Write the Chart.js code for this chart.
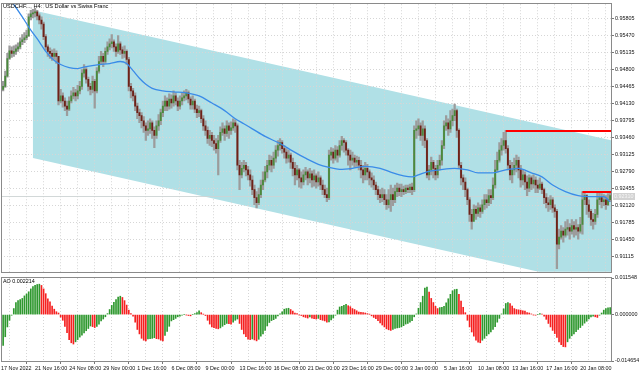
<!DOCTYPE html>
<html>
<head>
<meta charset="utf-8">
<script src="https://cdn.jsdelivr.net/npm/chart.js@4.4.1/dist/chart.umd.min.js"></script>
<style>
  body { margin: 0; background: #fff; width: 639px; height: 373px; overflow: hidden; position: relative; }
  canvas { position: absolute; left: 0; }
  #main { top: 0; }
  #ao { top: 272px; }
</style>
</head>
<body>
<canvas id="main" width="639" height="276"></canvas>
<canvas id="ao" width="639" height="101"></canvas>
<script>
// USDCHF H4, one entry per bar (bar 0 = 17 Nov 2022 04:00)
var open = [
0.9441,0.9447,0.9467,0.9502,0.9517,0.9512,0.9516,0.9521,0.9525,0.9535,
0.9539,0.9543,0.9547,0.9584,0.9590,0.9592,0.9594,0.9586,0.9578,0.9570,
0.9545,0.9525,0.9516,0.9512,0.9506,0.9512,0.9506,0.9418,0.9428,0.9418,
0.9408,0.9402,0.9418,0.9428,0.9434,0.9428,0.9438,0.9447,0.9473,0.9480,
0.9461,0.9447,0.9441,0.9457,0.9438,0.9477,0.9496,0.9506,0.9496,0.9516,
0.9525,0.9531,0.9535,0.9525,0.9516,0.9531,0.9519,0.9512,0.9516,0.9500,
0.9447,0.9438,0.9428,0.9408,0.9395,0.9389,0.9379,0.9369,0.9360,0.9363,
0.9375,0.9360,0.9350,0.9369,0.9379,0.9395,0.9408,0.9418,0.9408,0.9422,
0.9414,0.9428,0.9418,0.9408,0.9418,0.9424,0.9428,0.9434,0.9422,0.9410,
0.9418,0.9402,0.9395,0.9399,0.9383,0.9369,0.9360,0.9344,0.9350,0.9340,
0.9334,0.9324,0.9340,0.9356,0.9363,0.9354,0.9369,0.9360,0.9365,0.9375,
0.9369,0.9291,0.9272,0.9285,0.9291,0.9282,0.9272,0.9262,0.9243,0.9227,
0.9217,0.9233,0.9252,0.9262,0.9278,0.9291,0.9301,0.9291,0.9305,0.9321,
0.9330,0.9336,0.9324,0.9317,0.9305,0.9311,0.9297,0.9285,0.9272,0.9282,
0.9266,0.9258,0.9272,0.9278,0.9266,0.9274,0.9262,0.9270,0.9258,0.9266,
0.9252,0.9243,0.9233,0.9227,0.9311,0.9317,0.9305,0.9321,0.9311,0.9330,
0.9340,0.9336,0.9321,0.9311,0.9301,0.9305,0.9297,0.9301,0.9291,0.9282,
0.9272,0.9285,0.9278,0.9266,0.9262,0.9252,0.9243,0.9233,0.9227,0.9233,
0.9223,0.9213,0.9223,0.9233,0.9223,0.9239,0.9246,0.9239,0.9243,0.9239,
0.9246,0.9243,0.9248,0.9243,0.9360,0.9363,0.9369,0.9350,0.9363,0.9340,
0.9272,0.9282,0.9297,0.9285,0.9272,0.9291,0.9301,0.9330,0.9369,0.9375,
0.9363,0.9379,0.9389,0.9399,0.9360,0.9291,0.9266,0.9258,0.9243,0.9223,
0.9194,0.9180,0.9204,0.9196,0.9207,0.9200,0.9213,0.9223,0.9217,0.9231,
0.9227,0.9252,0.9282,0.9301,0.9321,0.9330,0.9340,0.9324,0.9291,0.9272,
0.9282,0.9291,0.9301,0.9282,0.9262,0.9272,0.9258,0.9246,0.9266,0.9254,
0.9262,0.9252,0.9246,0.9254,0.9243,0.9227,0.9217,0.9213,0.9223,0.9207,
0.9200,0.9135,0.9149,0.9161,0.9153,0.9165,0.9168,0.9161,0.9172,0.9165,
0.9168,0.9161,0.9174,0.9223,0.9231,0.9213,0.9200,0.9184,0.9180,0.9194,
0.9223,0.9227,0.9219,0.9223,0.9213,0.9223];
var high = [
0.9457,0.9477,0.9512,0.9527,0.9525,0.9527,0.9529,0.9533,0.9543,0.9549,
0.9553,0.9558,0.9590,0.9597,0.9599,0.9601,0.9597,0.9590,0.9584,0.9574,
0.9549,0.9529,0.9523,0.9519,0.9521,0.9517,0.9506,0.9441,0.9434,0.9424,
0.9418,0.9426,0.9438,0.9445,0.9441,0.9449,0.9457,0.9480,0.9490,0.9484,
0.9465,0.9453,0.9467,0.9461,0.9484,0.9506,0.9516,0.9512,0.9523,0.9535,
0.9541,0.9549,0.9539,0.9531,0.9547,0.9535,0.9525,0.9527,0.9519,0.9504,
0.9453,0.9443,0.9434,0.9414,0.9402,0.9395,0.9387,0.9375,0.9379,0.9383,
0.9379,0.9367,0.9379,0.9391,0.9402,0.9418,0.9428,0.9424,0.9432,0.9430,
0.9438,0.9434,0.9424,0.9428,0.9434,0.9438,0.9441,0.9438,0.9426,0.9428,
0.9422,0.9410,0.9408,0.9402,0.9389,0.9379,0.9367,0.9360,0.9356,0.9350,
0.9344,0.9350,0.9367,0.9375,0.9369,0.9379,0.9375,0.9377,0.9383,0.9381,
0.9373,0.9301,0.9297,0.9301,0.9297,0.9289,0.9282,0.9270,0.9252,0.9239,
0.9246,0.9262,0.9278,0.9289,0.9301,0.9311,0.9309,0.9317,0.9330,0.9340,
0.9344,0.9340,0.9330,0.9324,0.9321,0.9315,0.9305,0.9297,0.9291,0.9285,
0.9278,0.9282,0.9287,0.9282,0.9285,0.9280,0.9282,0.9274,0.9278,0.9270,
0.9262,0.9252,0.9246,0.9321,0.9326,0.9324,0.9330,0.9328,0.9340,0.9348,
0.9344,0.9340,0.9324,0.9321,0.9317,0.9311,0.9309,0.9307,0.9301,0.9291,
0.9297,0.9293,0.9282,0.9276,0.9270,0.9258,0.9250,0.9243,0.9246,0.9243,
0.9233,0.9243,0.9252,0.9246,0.9252,0.9256,0.9254,0.9254,0.9250,0.9252,
0.9252,0.9254,0.9256,0.9369,0.9379,0.9383,0.9375,0.9379,0.9369,0.9344,
0.9291,0.9307,0.9301,0.9291,0.9301,0.9311,0.9340,0.9379,0.9389,0.9383,
0.9399,0.9402,0.9412,0.9402,0.9363,0.9297,0.9272,0.9266,0.9246,0.9227,
0.9204,0.9213,0.9211,0.9217,0.9213,0.9223,0.9233,0.9233,0.9243,0.9243,
0.9266,0.9301,0.9317,0.9336,0.9344,0.9356,0.9360,0.9330,0.9301,0.9297,
0.9305,0.9311,0.9307,0.9291,0.9282,0.9278,0.9270,0.9272,0.9270,0.9272,
0.9268,0.9262,0.9266,0.9258,0.9246,0.9235,0.9227,0.9231,0.9227,0.9213,
0.9204,0.9165,0.9172,0.9168,0.9180,0.9184,0.9176,0.9184,0.9180,0.9184,
0.9174,0.9188,0.9239,0.9239,0.9233,0.9223,0.9204,0.9196,0.9204,0.9239,
0.9239,0.9235,0.9233,0.9231,0.9235,0.9237];
var low = [
0.9438,0.9445,0.9465,0.9500,0.9504,0.9506,0.9510,0.9516,0.9521,0.9529,
0.9533,0.9539,0.9545,0.9578,0.9582,0.9584,0.9578,0.9570,0.9560,0.9539,
0.9519,0.9506,0.9502,0.9498,0.9500,0.9492,0.9410,0.9414,0.9406,0.9399,
0.9389,0.9399,0.9414,0.9422,0.9418,0.9422,0.9432,0.9441,0.9465,0.9453,
0.9438,0.9430,0.9434,0.9404,0.9434,0.9473,0.9490,0.9486,0.9492,0.9510,
0.9519,0.9523,0.9516,0.9506,0.9512,0.9510,0.9502,0.9504,0.9490,0.9438,
0.9424,0.9418,0.9399,0.9383,0.9375,0.9365,0.9356,0.9340,0.9350,0.9354,
0.9344,0.9326,0.9344,0.9360,0.9371,0.9387,0.9399,0.9399,0.9402,0.9404,
0.9408,0.9410,0.9399,0.9402,0.9410,0.9418,0.9420,0.9414,0.9402,0.9402,
0.9395,0.9385,0.9387,0.9375,0.9360,0.9350,0.9334,0.9330,0.9328,0.9321,
0.9315,0.9272,0.9336,0.9350,0.9340,0.9348,0.9344,0.9352,0.9360,0.9356,
0.9282,0.9243,0.9266,0.9278,0.9270,0.9262,0.9250,0.9233,0.9213,0.9207,
0.9213,0.9227,0.9243,0.9258,0.9266,0.9282,0.9278,0.9285,0.9297,0.9309,
0.9321,0.9315,0.9305,0.9295,0.9297,0.9285,0.9270,0.9252,0.9262,0.9248,
0.9246,0.9252,0.9262,0.9252,0.9256,0.9248,0.9250,0.9246,0.9250,0.9243,
0.9233,0.9227,0.9219,0.9223,0.9301,0.9295,0.9301,0.9297,0.9307,0.9321,
0.9317,0.9311,0.9291,0.9282,0.9291,0.9287,0.9289,0.9282,0.9266,0.9256,
0.9262,0.9262,0.9252,0.9248,0.9243,0.9233,0.9223,0.9217,0.9219,0.9213,
0.9204,0.9207,0.9200,0.9211,0.9217,0.9229,0.9231,0.9229,0.9233,0.9235,
0.9237,0.9237,0.9233,0.9239,0.9344,0.9350,0.9340,0.9330,0.9326,0.9266,
0.9262,0.9272,0.9266,0.9262,0.9266,0.9282,0.9291,0.9324,0.9360,0.9350,
0.9356,0.9369,0.9379,0.9346,0.9285,0.9252,0.9243,0.9229,0.9213,0.9180,
0.9165,0.9188,0.9184,0.9190,0.9188,0.9196,0.9204,0.9207,0.9211,0.9215,
0.9223,0.9246,0.9278,0.9297,0.9311,0.9321,0.9315,0.9282,0.9262,0.9256,
0.9272,0.9278,0.9266,0.9248,0.9252,0.9243,0.9231,0.9239,0.9243,0.9246,
0.9237,0.9237,0.9243,0.9235,0.9215,0.9207,0.9200,0.9204,0.9198,0.9188,
0.9087,0.9126,0.9145,0.9139,0.9149,0.9153,0.9145,0.9155,0.9149,0.9153,
0.9145,0.9157,0.9155,0.9213,0.9194,0.9188,0.9172,0.9165,0.9174,0.9188,
0.9213,0.9207,0.9211,0.9204,0.9211,0.9219];
var close = [
0.9447,0.9467,0.9502,0.9517,0.9512,0.9516,0.9521,0.9525,0.9535,0.9539,
0.9543,0.9547,0.9584,0.9590,0.9592,0.9594,0.9586,0.9578,0.9570,0.9545,
0.9525,0.9516,0.9512,0.9506,0.9512,0.9506,0.9418,0.9428,0.9418,0.9408,
0.9402,0.9418,0.9428,0.9434,0.9428,0.9438,0.9447,0.9473,0.9480,0.9461,
0.9447,0.9441,0.9457,0.9438,0.9477,0.9496,0.9506,0.9496,0.9516,0.9525,
0.9531,0.9535,0.9525,0.9516,0.9531,0.9519,0.9512,0.9516,0.9500,0.9447,
0.9438,0.9428,0.9408,0.9395,0.9389,0.9379,0.9369,0.9360,0.9363,0.9375,
0.9360,0.9350,0.9369,0.9379,0.9395,0.9408,0.9418,0.9408,0.9422,0.9414,
0.9428,0.9418,0.9408,0.9418,0.9424,0.9428,0.9434,0.9422,0.9410,0.9418,
0.9402,0.9395,0.9399,0.9383,0.9369,0.9360,0.9344,0.9350,0.9340,0.9334,
0.9324,0.9340,0.9356,0.9363,0.9354,0.9369,0.9360,0.9365,0.9375,0.9369,
0.9291,0.9272,0.9285,0.9291,0.9282,0.9272,0.9262,0.9243,0.9227,0.9217,
0.9233,0.9252,0.9262,0.9278,0.9291,0.9301,0.9291,0.9305,0.9321,0.9330,
0.9336,0.9324,0.9317,0.9305,0.9311,0.9297,0.9285,0.9272,0.9282,0.9266,
0.9258,0.9272,0.9278,0.9266,0.9274,0.9262,0.9270,0.9258,0.9266,0.9252,
0.9243,0.9233,0.9227,0.9311,0.9317,0.9305,0.9321,0.9311,0.9330,0.9340,
0.9336,0.9321,0.9311,0.9301,0.9305,0.9297,0.9301,0.9291,0.9282,0.9272,
0.9285,0.9278,0.9266,0.9262,0.9252,0.9243,0.9233,0.9227,0.9233,0.9223,
0.9213,0.9223,0.9233,0.9223,0.9239,0.9246,0.9239,0.9243,0.9239,0.9246,
0.9243,0.9248,0.9243,0.9360,0.9363,0.9369,0.9350,0.9363,0.9340,0.9272,
0.9282,0.9297,0.9285,0.9272,0.9291,0.9301,0.9330,0.9369,0.9375,0.9363,
0.9379,0.9389,0.9399,0.9360,0.9291,0.9266,0.9258,0.9243,0.9223,0.9194,
0.9180,0.9204,0.9196,0.9207,0.9200,0.9213,0.9223,0.9217,0.9231,0.9227,
0.9252,0.9282,0.9301,0.9321,0.9330,0.9340,0.9324,0.9291,0.9272,0.9282,
0.9291,0.9301,0.9282,0.9262,0.9272,0.9258,0.9246,0.9266,0.9254,0.9262,
0.9252,0.9246,0.9254,0.9243,0.9227,0.9217,0.9213,0.9223,0.9207,0.9200,
0.9135,0.9149,0.9161,0.9153,0.9165,0.9168,0.9161,0.9172,0.9165,0.9168,
0.9161,0.9174,0.9223,0.9231,0.9213,0.9200,0.9184,0.9180,0.9194,0.9223,
0.9227,0.9219,0.9223,0.9213,0.9223,0.9231];

// moving average line, read at these bars
var maBars = [0,5,9,13,17,20,24,27,31,35,39,45,50,55,58,61,64,67,70,75,80,86,92,98,104,109,113,117,123,130,
  136,142,148,153,158,164,170,177,183,188,192,195,199,205,212,218,223,230,236,242,248,253,258,264,270,277,282,285];
var maValues = [0.9638,0.9609,0.9584,0.9558,0.9535,0.9516,0.9498,0.9490,0.9484,0.9482,0.9486,0.9490,0.9492,0.9496,0.9492,
  0.9478,0.9463,0.9451,0.9443,0.9438,0.9436,0.9434,0.9428,0.9414,0.9399,0.9383,0.9373,0.9363,0.9348,0.9334,
  0.9319,0.9305,0.9293,0.9287,0.9283,0.9285,0.9289,0.9285,0.9276,0.9270,0.9268,0.9272,0.9278,0.9282,0.9285,
  0.9282,0.9276,0.9276,0.9282,0.9285,0.9276,0.9268,0.9252,0.9239,0.9231,0.9229,0.9229,0.9219];

// Awesome Oscillator, one per bar
var aoValues = [
-0.0097,-0.0070,-0.0039,-0.0018,-0.0002,0.0019,0.0038,0.0044,0.0047,0.0051,
0.0059,0.0065,0.0072,0.0081,0.0088,0.0092,0.0095,0.0096,0.0092,0.0081,
0.0066,0.0050,0.0040,0.0027,0.0017,0.0009,0.0005,-0.0008,-0.0018,-0.0037,
-0.0057,-0.0079,-0.0089,-0.0093,-0.0086,-0.0079,-0.0071,-0.0065,-0.0058,-0.0051,
-0.0044,-0.0036,-0.0038,-0.0041,-0.0037,-0.0030,-0.0020,-0.0014,-0.0007,0.0003,
0.0016,0.0029,0.0039,0.0047,0.0055,0.0058,0.0054,0.0044,0.0030,0.0014,
0.0003,-0.0005,-0.0024,-0.0047,-0.0061,-0.0075,-0.0081,-0.0083,-0.0077,-0.0076,
-0.0075,-0.0073,-0.0076,-0.0077,-0.0081,-0.0083,-0.0066,-0.0053,-0.0037,-0.0020,
-0.0016,-0.0012,-0.0007,-0.0005,-0.0002,0.0000,-0.0001,-0.0003,-0.0004,0.0000,
0.0003,0.0006,0.0012,0.0006,0.0001,-0.0003,-0.0018,-0.0030,-0.0039,-0.0041,
-0.0044,-0.0045,-0.0042,-0.0037,-0.0032,-0.0028,-0.0029,-0.0030,-0.0024,-0.0018,
-0.0014,-0.0028,-0.0047,-0.0061,-0.0070,-0.0078,-0.0079,-0.0077,-0.0080,-0.0083,
-0.0078,-0.0068,-0.0061,-0.0050,-0.0036,-0.0025,-0.0019,-0.0016,-0.0012,-0.0004,
0.0002,0.0009,0.0017,0.0019,0.0020,0.0016,0.0011,0.0005,0.0003,-0.0001,
-0.0003,-0.0007,-0.0009,-0.0011,-0.0007,-0.0011,-0.0013,-0.0014,-0.0012,-0.0016,
-0.0018,-0.0020,-0.0024,-0.0023,-0.0017,-0.0011,-0.0002,0.0014,0.0024,0.0026,
0.0029,0.0032,0.0028,0.0025,0.0019,0.0016,0.0012,0.0008,0.0007,0.0006,
0.0005,0.0003,0.0001,-0.0004,-0.0009,-0.0013,-0.0019,-0.0026,-0.0033,-0.0039,
-0.0045,-0.0048,-0.0050,-0.0047,-0.0044,-0.0042,-0.0041,-0.0039,-0.0035,-0.0030,
-0.0028,-0.0024,-0.0019,-0.0007,0.0002,0.0020,0.0038,0.0058,0.0084,0.0087,
0.0071,0.0051,0.0038,0.0026,0.0019,0.0022,0.0023,0.0026,0.0037,0.0050,
0.0064,0.0075,0.0079,0.0080,0.0064,0.0043,0.0023,0.0006,-0.0018,-0.0039,
-0.0055,-0.0068,-0.0081,-0.0087,-0.0089,-0.0081,-0.0075,-0.0067,-0.0061,-0.0055,
-0.0047,-0.0038,-0.0024,-0.0012,0.0002,0.0018,0.0035,0.0038,0.0035,0.0027,
0.0019,0.0016,0.0015,0.0014,0.0012,0.0011,0.0006,0.0005,0.0002,-0.0001,
-0.0002,0.0000,0.0003,0.0001,-0.0005,-0.0015,-0.0028,-0.0039,-0.0050,-0.0060,
-0.0072,-0.0086,-0.0095,-0.0101,-0.0102,-0.0086,-0.0075,-0.0067,-0.0061,-0.0054,
-0.0047,-0.0041,-0.0034,-0.0027,-0.0021,-0.0014,-0.0007,-0.0005,-0.0007,-0.0009,
-0.0002,0.0005,0.0014,0.0019,0.0021,0.002214];

var priceTicks = [0.91115,0.91450,0.91785,0.92120,0.92455,0.92790,0.93125,0.93460,0.93795,0.94130,
  0.94465,0.94800,0.95135,0.95470,0.95805];
var aoTicks = [-0.014654, 0, 0.011548];
var dateLabels = ['17 Nov 2022','21 Nov 16:00','24 Nov 08:00','29 Nov 00:00','1 Dec 16:00','6 Dec 08:00',
  '9 Dec 00:00','13 Dec 16:00','16 Dec 08:00','21 Dec 00:00','23 Dec 16:00','29 Dec 00:00','3 Jan 00:00',
  '5 Jan 16:00','10 Jan 08:00','13 Jan 16:00','17 Jan 16:00','20 Jan 08:00'];

// channel object (anchor bars, upper and lower price), ray to the right
var channelBars = [14, 285];
var channelTop = [0.95974, 0.93408];
var channelBottom = [0.93055, 0.90489];
// horizontal red levels (start bar, price)
var levelBars = [236, 272];
var levelPrices = [0.9359, 0.9238];

var FONT = 'Liberation Sans';
var xMin = -1, xMax = 285.4;

function gridTicks(scale) {
  var t = [];
  for (var v = -1; v <= xMax; v += 8) t.push({ value: v });
  scale.ticks = t;
}

function xAxis(showLabels) {
  return {
    type: 'linear', min: xMin, max: xMax, offset: false,
    afterBuildTicks: gridTicks,
    afterFit: function (s) { s.height = showLabels ? 12 : 0; },
    grid: {
      color: '#d6d6d6', drawTicks: showLabels, tickLength: 3,
      tickColor: function (c) { return c.tick && (c.tick.value + 1) % 16 === 0 ? '#777' : 'rgba(0,0,0,0)'; }
    },
    border: { display: false, dash: [1, 2] },
    ticks: {
      display: showLabels, autoSkip: false, maxRotation: 0, minRotation: 0, align: 'start', padding: 1,
      color: '#111', font: { family: FONT, size: 5.4 },
      callback: function (v) { return (v + 1) % 16 === 0 ? dateLabels[(v + 1) / 16] : ''; }
    }
  };
}

function frame(chart, ctx, a) {
  ctx.save();
  ctx.strokeStyle = '#8a8a8a';
  ctx.lineWidth = 1;
  ctx.strokeRect(Math.round(a.left) + 0.5, Math.round(a.top) - 0.5, Math.round(a.right - a.left), Math.round(a.bottom - a.top) + 1);
  ctx.restore();
}

var mainOverlay = {
  id: 'mainOverlay',
  beforeDraw: function (chart) {
    var ctx = chart.ctx, a = chart.chartArea, x = chart.scales.x, y = chart.scales.y;
    ctx.save();
    ctx.beginPath(); ctx.rect(a.left, a.top, a.right - a.left, a.bottom - a.top); ctx.clip();
    var x0 = x.getPixelForValue(channelBars[0]), x1 = x.getPixelForValue(channelBars[1]);
    function ray(v0, v1) {
      var p0 = y.getPixelForValue(v0), p1 = y.getPixelForValue(v1);
      return p1 + (p1 - p0) / (x1 - x0) * (a.right - x1);
    }
    ctx.fillStyle = '#b0e0e6';
    ctx.beginPath();
    ctx.moveTo(x0, y.getPixelForValue(channelTop[0]));
    ctx.lineTo(a.right, ray(channelTop[0], channelTop[1]));
    ctx.lineTo(a.right, ray(channelBottom[0], channelBottom[1]));
    ctx.lineTo(x0, y.getPixelForValue(channelBottom[0]));
    ctx.closePath();
    ctx.fill();
    ctx.restore();
  },
  beforeDatasetsDraw: function (chart) {
    var ctx = chart.ctx, a = chart.chartArea, y = chart.scales.y;
    var py = Math.round(y.getPixelForValue(close[close.length - 1])) + 0.5;
    ctx.save();
    ctx.strokeStyle = 'rgba(205,212,212,0.9)';
    ctx.lineWidth = 1;
    ctx.beginPath(); ctx.moveTo(a.left, py); ctx.lineTo(a.right, py); ctx.stroke();
    ctx.restore();
  },
  afterDatasetsDraw: function (chart) {
    var ctx = chart.ctx, a = chart.chartArea, x = chart.scales.x, y = chart.scales.y;
    ctx.save();
    ctx.strokeStyle = '#ff0000';
    ctx.lineWidth = 2;
    for (var k = 0; k < levelBars.length; k++) {
      var py = Math.round(y.getPixelForValue(levelPrices[k]));
      ctx.beginPath(); ctx.moveTo(x.getPixelForValue(levelBars[k]), py); ctx.lineTo(a.right, py); ctx.stroke();
    }
    ctx.restore();
  },
  afterDraw: function (chart) {
    var ctx = chart.ctx, a = chart.chartArea, y = chart.scales.y;
    frame(chart, ctx, a);
    ctx.save();
    ctx.font = '5.6px "' + FONT + '"';
    ctx.fillStyle = '#000';
    ctx.textBaseline = 'middle';
    ctx.fillText('USDCHF..., H4:  US Dollar vs Swiss Franc', 3, 6);
    // current price tag
    var last = close[close.length - 1];
    var py = Math.round(y.getPixelForValue(last));
    ctx.fillStyle = '#d2d2d2';
    ctx.fillRect(613, py - 3, 22, 7);
    ctx.fillStyle = '#f6f6f6';
    ctx.font = '5.4px "' + FONT + '"';
    ctx.fillText(last.toFixed(5), 614, py + 0.5);
    ctx.restore();
  }
};

var bars = close.map(function (c, i) { return i; });

new Chart(document.getElementById('main'), {
  type: 'bar',
  data: {
    datasets: [
      {
        type: 'line', order: 0,
        data: maBars.map(function (b, i) { return { x: b, y: maValues[i] }; }),
        borderColor: '#3a8be8', borderWidth: 1.3, pointRadius: 0, tension: 0.4, cubicInterpolationMode: 'monotone'
      },
      {
        order: 1, grouped: false, barThickness: 1.2, minBarLength: 1,
        data: bars.map(function (i) { return { x: i, y: [open[i], close[i]] }; }),
        backgroundColor: bars.map(function (i) { return close[i] >= open[i] ? '#4a8a3c' : '#6e2218'; })
      },
      {
        order: 2, grouped: false, barThickness: 1.6,
        data: bars.map(function (i) { return { x: i, y: [low[i], high[i]] }; }),
        backgroundColor: '#9c9c9c'
      }
    ]
  },
  options: {
    responsive: false, animation: false, devicePixelRatio: 1, events: [],
    layout: { padding: { left: 1, top: 2, right: 0, bottom: 3 } },
    plugins: { legend: { display: false }, tooltip: { enabled: false } },
    scales: {
      x: xAxis(false),
      y: {
        position: 'right', min: 0.90807, max: 0.96091,
        afterBuildTicks: function (s) { s.ticks = priceTicks.map(function (v) { return { value: v }; }); },
        afterFit: function (s) { s.width = 28; },
        grid: { color: '#d6d6d6', tickLength: 3, tickColor: '#777' },
        border: { display: false, dash: [1, 2] },
        ticks: { padding: 1, color: '#111', font: { family: FONT, size: 5.4 },
          callback: function (v) { return v.toFixed(5); } }
      }
    }
  },
  plugins: [mainOverlay]
});

var aoOverlay = {
  id: 'aoOverlay',
  afterDraw: function (chart) {
    var ctx = chart.ctx, a = chart.chartArea;
    frame(chart, ctx, a);
    ctx.save();
    ctx.font = '5.4px "' + FONT + '"';
    ctx.fillStyle = '#000';
    ctx.textBaseline = 'middle';
    ctx.fillText('AO ' + aoValues[aoValues.length - 1].toFixed(6), 3, 9.5);
    ctx.restore();
  }
};

new Chart(document.getElementById('ao'), {
  type: 'bar',
  data: {
    datasets: [{
      grouped: false, barThickness: 1,
      data: aoValues.map(function (v, i) { return { x: i, y: v }; }),
      backgroundColor: aoValues.map(function (v, i) {
        return (i === 0 || v >= aoValues[i - 1]) ? '#2f982f' : '#f52020';
      })
    }]
  },
  options: {
    responsive: false, animation: false, devicePixelRatio: 1, events: [],
    layout: { padding: { left: 1, top: 6, right: 0, bottom: 0 } },
    plugins: { legend: { display: false }, tooltip: { enabled: false } },
    scales: {
      x: xAxis(true),
      y: {
        position: 'right', min: aoTicks[0], max: aoTicks[2],
        afterBuildTicks: function (s) { s.ticks = aoTicks.map(function (v) { return { value: v }; }); },
        afterFit: function (s) { s.width = 28; },
        grid: { drawOnChartArea: false, tickLength: 3, tickColor: '#777' },
        border: { display: false },
        ticks: { padding: 1, color: '#111', font: { family: FONT, size: 5.4 },
          callback: function (v) { return v.toFixed(6); } }
      }
    }
  },
  plugins: [aoOverlay]
});
</script>
</body>
</html>
